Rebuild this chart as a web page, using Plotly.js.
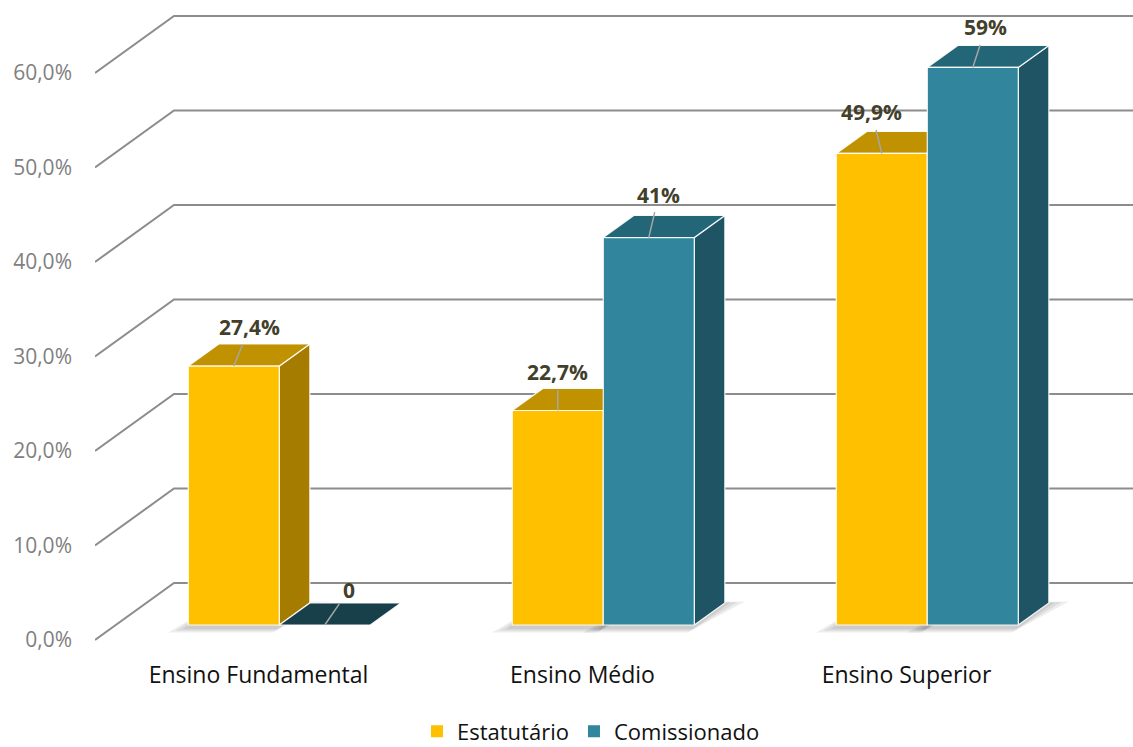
<!DOCTYPE html>
<html><head><meta charset="utf-8">
<script src="https://cdn.plot.ly/plotly-3.0.1.min.js"></script>
<style>html,body{margin:0;padding:0;background:#fff}#chart{width:1133px;height:747px}</style>
</head><body><div id="chart"></div>
<script>
// ---------------- data ----------------
const categories = ["Ensino Fundamental", "Ensino Médio", "Ensino Superior"];
const seriesNames = ["Estatutário", "Comissionado"];
const estatutario = [0.274, 0.227, 0.499];
const comissionado = [0.0, 0.41, 0.59];
const estatutarioLabels = ["27,4%", "22,7%", "49,9%"];
const comissionadoLabels = ["0", "41%", "59%"];
const yTickValues = [0, 0.1, 0.2, 0.3, 0.4, 0.5, 0.6];

// ---------------- geometry / style ----------------
const W = 1133, H = 747;
const PLOT_LEFT = 95, PLOT_BOTTOM_PX = 650;
const PX_PER_UNIT = 945, ZERO_PX = 640;
const DEPTH_DX = 79, DEPTH_DY = 57 / PX_PER_UNIT;   // back wall offset
const BAR_W = 91, BAR_D0 = 0.263, BAR_D1 = 0.65;
const GROUP_START = 258.5, GROUP_STEP = 324;
const GRID_RIGHT = 1145;

const seriesValues = [estatutario, comissionado];
const seriesLabels = [estatutarioLabels, comissionadoLabels];
const styles = [
  {front: '#FFC000', top: '#C09100', side: '#A67C00', flat: '#7d5e00'},
  {front: '#31859C', top: '#236677', side: '#1F5464', flat: '#17404B'}
];
const labelOffsets = [
  [[16, -39], [0, -38], [-10, -41]],
  [[24, -35], [10, -43], [13, -40]]
];

function P(x, v, d) { return [x + d * DEPTH_DX, v + d * DEPTH_DY]; }
function poly(pts, fill, lineColor, lineW) {
  const xs = pts.map(p => p[0]), ys = pts.map(p => p[1]);
  xs.push(xs[0]); ys.push(ys[0]);
  return {type: 'scatter', mode: lineW === 0 ? 'none' : 'lines', x: xs, y: ys, fill: 'toself',
    fillcolor: fill, line: {color: lineColor || 'rgba(255,255,255,0.9)', width: lineW == null ? 1.2 : lineW},
    hoverinfo: 'skip', showlegend: false};
}

const traces = [];
// gridlines: side wall diagonals + back wall horizontals
const gx = [], gy = [];
yTickValues.forEach(v => {
  const a = P(PLOT_LEFT, v, 0), b = P(PLOT_LEFT, v, 1), c = P(GRID_RIGHT - DEPTH_DX, v, 1);
  gx.push(a[0], b[0], c[0], null); gy.push(a[1], b[1], c[1], null);
});
traces.push({type: 'scatter', mode: 'lines', x: gx, y: gy, line: {color: '#8c8c8c', width: 2},
  hoverinfo: 'skip', showlegend: false});

const centers = categories.map((c, i) => GROUP_START + GROUP_STEP * i);
const annotations = [];

// soft shadows under bars
categories.forEach((cat, i) => {
  seriesValues.forEach((vals, s) => {
    if (vals[i] <= 0) return;
    const x0 = centers[i] + (s - 1) * BAR_W, x1 = x0 + BAR_W;
    [[14, 0.08], [9, 0.05], [4, 0.025]].forEach(([e, dd]) => {
      traces.push(poly([P(x0 - e, -0.003, BAR_D0 - dd), P(x1, -0.003, BAR_D0 - dd),
        P(x1 + e * 1.3, 0, BAR_D1 + dd * 0.3), P(x0, 0, BAR_D1)], 'rgba(0,0,0,0.07)', null, 0));
    });
  });
});

// bars
categories.forEach((cat, i) => {
  seriesValues.forEach((vals, s) => {
    const v = vals[i], st = styles[s];
    const x0 = centers[i] + (s - 1) * BAR_W, x1 = x0 + BAR_W;
    if (v > 0) {
      traces.push(poly([P(x1, 0, BAR_D0), P(x1, 0, BAR_D1), P(x1, v, BAR_D1), P(x1, v, BAR_D0)], st.side));
      traces.push(poly([P(x0, v, BAR_D0), P(x1, v, BAR_D0), P(x1, v, BAR_D1), P(x0, v, BAR_D1)], st.top));
      traces.push(poly([P(x0, 0, BAR_D0), P(x1, 0, BAR_D0), P(x1, v, BAR_D0), P(x0, v, BAR_D0)], st.front));
    } else {
      traces.push(poly([P(x0, v, BAR_D0), P(x1, v, BAR_D0), P(x1, v, BAR_D1), P(x0, v, BAR_D1)], st.flat));
    }
    const head = P((x0 + x1) / 2, v, BAR_D0);
    annotations.push({x: head[0], y: head[1], xref: 'x', yref: 'y', text: seriesLabels[s][i],
      showarrow: true, arrowhead: 0, arrowwidth: 1.5, arrowcolor: '#a6a6a6',
      ax: labelOffsets[s][i][0], ay: labelOffsets[s][i][1], borderpad: 3,
      font: {family: '"Open Sans", sans-serif', size: 21, color: '#433f2b', weight: 'bold'}});
  });
});

// legend entries
seriesNames.forEach((n, s) => {
  traces.push({type: 'scatter', mode: 'markers', x: [null], y: [null], name: n,
    marker: {symbol: 'square', size: 12, color: styles[s].front}, hoverinfo: 'skip'});
});

const layout = {
  width: W, height: H,
  margin: {l: PLOT_LEFT, r: 0, t: 0, b: H - PLOT_BOTTOM_PX},
  paper_bgcolor: '#fff', plot_bgcolor: '#fff',
  separators: ',.',
  font: {family: '"Open Sans", sans-serif'},
  xaxis: {range: [PLOT_LEFT, W], showgrid: false, zeroline: false, showline: false,
    tickvals: centers, ticktext: categories, ticks: '', ticklabelstandoff: 9,
    tickfont: {size: 23, color: '#111'}, fixedrange: true},
  yaxis: {range: [(ZERO_PX - PLOT_BOTTOM_PX) / PX_PER_UNIT, ZERO_PX / PX_PER_UNIT],
    tickvals: yTickValues, tickformat: '.1%', showgrid: false, zeroline: false, showline: false,
    ticks: '', ticklabelstandoff: 22, tickfont: {size: 21, color: '#808080'}, fixedrange: true},
  showlegend: true,
  legend: {orientation: 'h', xref: 'container', yref: 'container', x: 591 / W, xanchor: 'center',
    y: 0.049, yanchor: 'top', font: {size: 22, color: '#111'}},
  annotations: annotations
};

Plotly.newPlot('chart', traces, layout, {displayModeBar: false, staticPlot: true});
</script>
</body></html>
